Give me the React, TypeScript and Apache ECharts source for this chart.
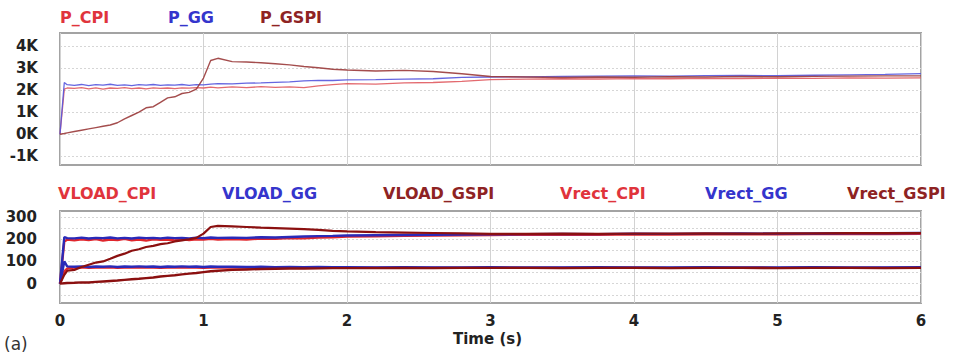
import React, { useEffect, useRef } from "react";
import * as echarts from "echarts";

const TIME = [0, 0.03, 0.05, 0.1, 0.15, 0.2, 0.25, 0.3, 0.35, 0.4, 0.45, 0.5, 0.55, 0.6, 0.65, 0.7, 0.75, 0.8, 0.85, 0.9, 0.95, 1.0, 1.05, 1.1, 1.2, 1.3, 1.4, 1.5, 1.6, 1.7, 1.8, 1.9, 2.0, 2.2, 2.4, 2.6, 2.8, 3.0, 3.25, 3.5, 3.75, 4.0, 4.25, 4.5, 4.75, 5.0, 5.25, 5.5, 5.75, 6.0];

const P_CPI = [0, 2050, 2100,
  2080, 2120, 2060, 2110, 2050, 2100, 2080, 2120, 2070, 2100, 2060, 2110, 2080, 2100, 2070, 2110, 2090, 2120, 2100, 2140, 2110,
  2150, 2120, 2160, 2130, 2150, 2120, 2200, 2250, 2300,
  2280, 2330, 2350, 2400, 2480,
  2500, 2520, 2510, 2530, 2520, 2540, 2530, 2550, 2540, 2560, 2550, 2560];
const P_GG = [0, 2350, 2250,
  2220, 2260, 2210, 2250, 2230, 2270, 2220, 2240, 2210, 2250, 2230, 2260, 2220, 2240, 2230, 2260, 2220, 2250, 2240, 2280, 2300,
  2290, 2320, 2330, 2360, 2380, 2420, 2450, 2440, 2470,
  2480, 2500, 2520, 2580, 2600,
  2610, 2630, 2640, 2650, 2640, 2660, 2670, 2660, 2680, 2700, 2720, 2750];
const P_GSPI = [0, 30, 60,
  120, 180, 240, 300, 360, 420, 520, 700, 850, 1000, 1200, 1250, 1450, 1650, 1700, 1850, 1900, 2050, 2550, 3350, 3450,
  3300, 3280, 3250, 3200, 3150, 3080, 3020, 2950, 2920,
  2870, 2900, 2850, 2750, 2620,
  2600, 2580, 2600, 2590, 2610, 2600, 2620, 2610, 2630, 2640, 2650, 2650];

const VLOAD_CPI = [0, 190, 198,
  195, 200, 196, 201, 194, 199, 196, 202, 195, 198, 194, 200, 197, 199, 195, 201, 196, 200, 198, 202, 199,
  201, 199, 203, 202, 205, 204, 207, 209, 212,
  213, 215, 216, 218, 219,
  220, 221, 220, 222, 221, 222, 223, 222, 223, 224, 223, 224];
const VLOAD_GG = [0, 210, 205,
  204, 207, 203, 206, 205, 208, 204, 206, 203, 207, 205, 206, 204, 207, 205, 206, 204, 207, 205, 208, 206,
  207, 206, 209, 208, 210, 212, 214, 215, 217,
  218, 219, 220, 221, 222,
  223, 224, 223, 225, 224, 225, 226, 225, 226, 227, 227, 228];
const VLOAD_GSPI = [0, 40, 58,
  62, 75, 85, 95, 100, 112, 125, 135, 148, 155, 165, 170, 178, 182, 190, 195, 200, 206, 225, 255, 260,
  258, 255, 252, 250, 248, 245, 242, 238, 235,
  232, 230, 228, 226, 224,
  224, 225, 224, 225, 225, 226, 225, 226, 226, 227, 227, 228];
const VRECT_CPI = [0, 55, 68,
  72, 74, 71, 73, 72, 74, 71, 73, 72, 74, 72, 73, 71, 73, 72, 74, 72, 73, 71, 73, 72,
  72, 73, 71, 72, 73, 72, 71, 72, 72,
  72, 71, 72, 71, 72,
  71, 72, 71, 72, 71, 71, 72, 71, 72, 71, 72, 71];
const VRECT_GG = [0, 100, 78,
  76, 78, 75, 77, 76, 78, 75, 77, 76, 78, 76, 77, 75, 77, 76, 78, 76, 77, 75, 77, 76,
  76, 75, 76, 74, 75, 74, 75, 74, 74,
  73, 74, 73, 73, 74,
  73, 73, 74, 73, 73, 74, 73, 73, 74, 73, 73, 74];
const VRECT_GSPI = [0, 2, 3,
  4, 6, 5, 8, 10, 12, 14, 17, 20, 22, 25, 28, 32, 35, 38, 42, 45, 48, 52, 56, 58,
  62, 64, 66, 67, 68, 68, 69, 70, 70,
  70, 71, 70, 71, 71,
  71, 70, 71, 71, 70, 71, 71, 70, 71, 71, 70, 71];

const P_TICKS = [-1000, 0, 1000, 2000, 3000, 4000];
const V_LABELS = [0, 100, 200, 300];
const V_GRID = [-50, 0, 50, 100, 150, 200, 250, 300];

const TOP_LEGEND = [
  { name: "P_CPI", x: 60, color: "#e0343c" },
  { name: "P_GG", x: 168, color: "#3535cc" },
  { name: "P_GSPI", x: 260, color: "#8e2323" },
];
const BOTTOM_LEGEND = [
  { name: "VLOAD_CPI", x: 58, color: "#e0343c" },
  { name: "VLOAD_GG", x: 222, color: "#3535cc" },
  { name: "VLOAD_GSPI", x: 383, color: "#8e2323" },
  { name: "Vrect_CPI", x: 560, color: "#e0343c" },
  { name: "Vrect_GG", x: 705, color: "#3535cc" },
  { name: "Vrect_GSPI", x: 847, color: "#8e2323" },
];

const FONT = "'DejaVu Sans', Verdana, sans-serif";

function pairs(vals: number[]) {
  return TIME.map((t, i) => [t, vals[i]]);
}

export default function App() {
  const ref = useRef<HTMLDivElement>(null);
  useEffect(() => {
    if (!ref.current) return;
    const chart = echarts.init(ref.current, null, { renderer: "svg" });
    const xCommon = {
      type: "value" as const,
      min: 0,
      max: 6,
      interval: 1,
      axisLine: { show: false },
      axisTick: { show: false },
      splitLine: { show: true, lineStyle: { color: "#d2d2d2", width: 1 } },
    };
    const yCommon = {
      type: "value" as const,
      axisLine: { show: false },
      axisTick: { show: false },
      splitLine: { show: true, lineStyle: { color: "#d6d6d6", width: 1, type: [2, 2] } },
    };
    const line = (name: string, vals: number[], color: string, idx: number, width: number, opacity: number) => ({
      name,
      type: "line" as const,
      xAxisIndex: idx,
      yAxisIndex: idx,
      data: pairs(vals),
      showSymbol: false,
      symbol: "none",
      lineStyle: { color, width, opacity },
      itemStyle: { color },
    });
    chart.setOption({
      animation: false,
      backgroundColor: "#ffffff",
      grid: [
        { left: 60, top: 33, width: 861, height: 132, show: true, borderColor: "#a3a3a3", borderWidth: 2, backgroundColor: "transparent" },
        { left: 60, top: 211, width: 861, height: 92, show: true, borderColor: "#a3a3a3", borderWidth: 2, backgroundColor: "transparent" },
      ],
      xAxis: [
        { ...xCommon, gridIndex: 0, axisLabel: { show: false } },
        {
          ...xCommon,
          gridIndex: 1,
          axisLabel: { show: true, margin: 10, lineHeight: 15, fontFamily: FONT, fontWeight: "bold", fontSize: 15, color: "#222" },
        },
      ],
      yAxis: [
        {
          ...yCommon,
          gridIndex: 0,
          min: -1400,
          max: 4600,
          axisTick: { show: false, customValues: P_TICKS },
          axisLabel: {
            customValues: P_TICKS,
            formatter: (v: number) => `${Math.round(v / 1000)}K`,
            margin: 22,
            fontFamily: FONT,
            fontWeight: "bold",
            fontSize: 15,
            color: "#222",
          },
        },
        {
          ...yCommon,
          gridIndex: 1,
          min: -87,
          max: 327,
          axisTick: { show: false, customValues: V_GRID },
          axisLabel: {
            customValues: V_LABELS,
            margin: 23,
            fontFamily: FONT,
            fontWeight: "bold",
            fontSize: 15,
            color: "#222",
          },
        },
      ],
      series: [
        line("P_CPI", P_CPI, "#e05a5f", 0, 1.3, 0.9),
        line("P_GG", P_GG, "#5555dd", 0, 1.3, 0.9),
        line("P_GSPI", P_GSPI, "#9a3a3a", 0, 1.4, 0.9),
        line("VLOAD_CPI", VLOAD_CPI, "#e0262c", 1, 2.4, 1),
        line("VLOAD_GG", VLOAD_GG, "#2a2ab8", 1, 2.4, 1),
        line("Vrect_CPI", VRECT_CPI, "#e0262c", 1, 2.4, 1),
        line("Vrect_GG", VRECT_GG, "#2a2ab8", 1, 2.4, 1),
        line("VLOAD_GSPI", VLOAD_GSPI, "#8b1010", 1, 2.2, 1),
        line("Vrect_GSPI", VRECT_GSPI, "#8b1010", 1, 2.4, 1),
      ],
      graphic: [
        ...TOP_LEGEND.map((l) => ({
          type: "text",
          left: l.x,
          top: 9,
          style: { text: l.name, fill: l.color, font: `bold 16px ${FONT}` },
        })),
        ...BOTTOM_LEGEND.map((l) => ({
          type: "text",
          left: l.x,
          top: 185,
          style: { text: l.name, fill: l.color, font: `bold 16px ${FONT}` },
        })),
        {
          type: "text",
          left: 453,
          top: 331,
          style: { text: "Time (s)", fill: "#222", font: `bold 15px ${FONT}`, lineHeight: 15 },
        },
        {
          type: "text",
          left: 4,
          top: 335,
          style: { text: "(a)", fill: "#333", font: `17px ${FONT}` },
        },
      ],
    });
    return () => chart.dispose();
  }, []);
  return (
    <div
      ref={ref}
      style={{ position: "fixed", left: 0, top: 0, width: 957, height: 355, background: "#fff" }}
    />
  );
}
